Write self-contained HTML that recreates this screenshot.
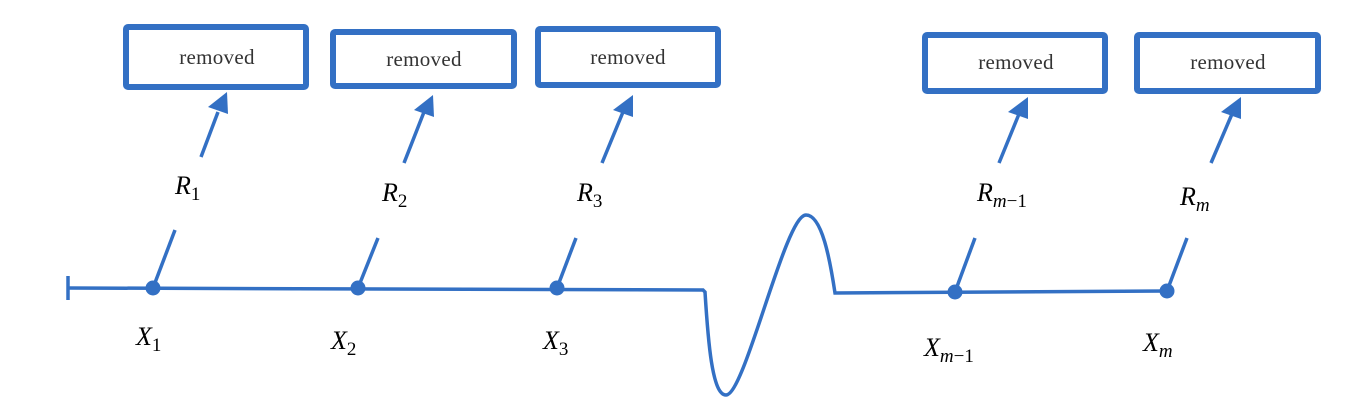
<!DOCTYPE html>
<html><head><meta charset="utf-8"><style>
html,body{margin:0;padding:0;background:#fff;width:1349px;height:408px;overflow:hidden}
text{font-family:"Liberation Serif",serif}
.r{font-size:21px;fill:#333;font-family:"DejaVu Serif","Liberation Serif",serif;letter-spacing:0.3px}
.m{font-size:26px;font-style:italic;fill:#000}
.s{font-size:19px;font-style:italic}
.n{font-style:normal}
</style></head><body>
<svg width="1349" height="408" viewBox="0 0 1349 408" xmlns="http://www.w3.org/2000/svg">
<g fill="none" stroke="#3370c4" stroke-width="6" stroke-linejoin="round">
<rect x="126" y="27" width="180" height="60" rx="2"/>
<rect x="333" y="32" width="181" height="54" rx="2"/>
<rect x="538" y="29" width="180" height="56" rx="2"/>
<rect x="925" y="35" width="180" height="56" rx="2"/>
<rect x="1137" y="35" width="181" height="56" rx="2"/>
</g>
<g class="r" text-anchor="middle">
<text x="217" y="64">removed</text>
<text x="424" y="66">removed</text>
<text x="628" y="64">removed</text>
<text x="1016" y="69">removed</text>
<text x="1228" y="69">removed</text>
</g>
<g fill="none" stroke="#3370c4" stroke-width="3.5">
<path d="M68,288 L703,290 L705,292 C708,340 712,395 726,395 C745,395 785,215 806,215 C822,215 830,260 835,293 L1168,291"/>
<line x1="68" y1="276" x2="68" y2="300"/>
<line x1="153" y1="288" x2="175" y2="230"/>
<line x1="358" y1="288" x2="378" y2="238"/>
<line x1="557" y1="288" x2="576" y2="238"/>
<line x1="955" y1="292" x2="975" y2="238"/>
<line x1="1167" y1="291" x2="1187" y2="238"/>
<line x1="201" y1="157" x2="218" y2="112"/>
<line x1="404" y1="163" x2="424" y2="112"/>
<line x1="602" y1="163" x2="623" y2="112"/>
<line x1="999" y1="163" x2="1019" y2="114"/>
<line x1="1211" y1="163" x2="1232" y2="114"/>
</g>
<g fill="#3370c4">
<polygon points="227,92 228,114 208,107"/>
<polygon points="433,95 434,117 414,110"/>
<polygon points="633,95 633,117 613,110"/>
<polygon points="1028,97 1028,119 1008,112"/>
<polygon points="1241,97 1241,119 1221,112"/>
<circle cx="153" cy="288" r="7.5"/><circle cx="358" cy="288" r="7.5"/><circle cx="557" cy="288" r="7.5"/><circle cx="955" cy="292" r="7.5"/><circle cx="1167" cy="291" r="7.5"/>
</g>
<g class="m">
<text x="175" y="194">R<tspan class="s n" dy="6">1</tspan></text>
<text x="382" y="201">R<tspan class="s n" dy="6">2</tspan></text>
<text x="577" y="201">R<tspan class="s n" dy="6">3</tspan></text>
<text x="977" y="201">R<tspan class="s" dy="6">m</tspan><tspan class="s n">−1</tspan></text>
<text x="1180" y="205">R<tspan class="s" dy="6">m</tspan></text>
<text x="136" y="345">X<tspan class="s n" dy="6">1</tspan></text>
<text x="331" y="349">X<tspan class="s n" dy="6">2</tspan></text>
<text x="543" y="349">X<tspan class="s n" dy="6">3</tspan></text>
<text x="924" y="356">X<tspan class="s" dy="6">m</tspan><tspan class="s n">−1</tspan></text>
<text x="1143" y="351">X<tspan class="s" dy="6">m</tspan></text>
</g>
</svg>
</body></html>
